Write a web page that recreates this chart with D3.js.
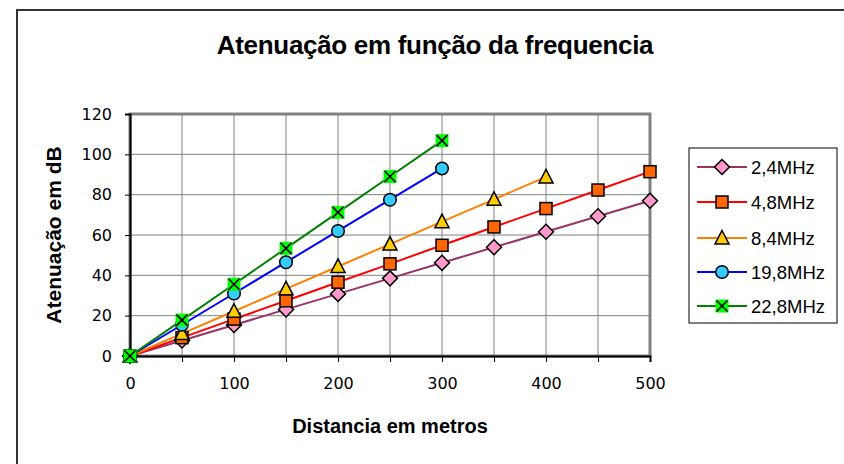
<!DOCTYPE html>
<html><head><meta charset="utf-8">
<script src="https://cdn.jsdelivr.net/npm/d3@7"></script>
<style>body{margin:0;background:#fff}svg{display:block}text{font-family:"Liberation Sans",Arial,sans-serif}</style>
</head><body>
<svg id="c" width="844" height="464"></svg>
<script>
const distances = [0,50,100,150,200,250,300,350,400,450,500];
const s24 = [0,7.7,15.4,23.1,30.8,38.5,46.2,53.9,61.6,69.3,77];
const s48 = [0,9.1,18.3,27.4,36.6,45.7,54.9,64,73.1,82.3,91.4];
const s84 = [0,11.1,22.2,33.3,44.4,55.5,66.6,77.7,88.8];
const s198 = [0,15.5,31,46.5,62,77.5,93];
const s228 = [0,17.8,35.6,53.4,71.2,89,106.8];
const seriesNames = ["2,4MHz","4,8MHz","8,4MHz","19,8MHz","22,8MHz"];
const xTicks = [0,100,200,300,400,500];
const yTicks = [0,20,40,60,80,100,120];
const title = "Atenuação em função da frequencia";
const xTitle = "Distancia em metros";
const yTitle = "Atenuação em dB";

const styles = [
  {line:"#993366", fill:"#FF99CC", shape:"diamond"},
  {line:"#FF0000", fill:"#FF6600", shape:"square"},
  {line:"#FF8000", fill:"#FFCC00", shape:"triangle"},
  {line:"#0000FF", fill:"#33CCFF", shape:"circle"},
  {line:"#008000", fill:"#00FF00", shape:"xsquare"}
];
const allSeries = [s24,s48,s84,s198,s228];

const svg = d3.select("#c");
svg.append("path").attr("d","M17,464 V10 H844").attr("fill","none").attr("stroke","#333").attr("stroke-width",2);

const x = d3.scaleLinear().domain([0,500]).range([130,650]);
const y = d3.scaleLinear().domain([0,120]).range([356,114]);

const g = svg.append("g");
d3.range(50,501,50).forEach(v=>{
  g.append("line").attr("x1",x(v)).attr("x2",x(v)).attr("y1",y(0)).attr("y2",y(120)).attr("stroke","#808080").attr("stroke-width",1);
});
yTicks.slice(1).forEach(v=>{
  g.append("line").attr("x1",x(0)).attr("x2",x(500)).attr("y1",y(v)).attr("y2",y(v)).attr("stroke","#808080").attr("stroke-width",1);
});
g.append("rect").attr("x",x(0)).attr("y",y(120)).attr("width",x(500)-x(0)).attr("height",y(0)-y(120)).attr("fill","none").attr("stroke","#808080").attr("stroke-width",3);

const tickFont = '"DejaVu Sans", sans-serif';
const xAxis = d3.axisBottom(x).tickValues(d3.range(0,501,50)).tickSize(6).tickFormat(d=>xTicks.includes(d)?d:"");
const gx = svg.append("g").attr("transform",`translate(0,${y(0)})`).call(xAxis);
gx.select(".domain").attr("stroke","#000").attr("stroke-width",2);
gx.selectAll(".tick line").attr("stroke","#000");
gx.selectAll("text").style("font-family",tickFont).attr("font-size",16).attr("fill","#000").attr("y",18).attr("dy","0.95em");

const yAxis = d3.axisLeft(y).tickValues(yTicks).tickSize(5);
const gy = svg.append("g").attr("transform",`translate(${x(0)},0)`).call(yAxis);
gy.select(".domain").attr("stroke","#000").attr("stroke-width",2);
gy.selectAll(".tick line").attr("stroke","#000");
gy.selectAll("text").style("font-family",tickFont).attr("font-size",16).attr("fill","#000").attr("x",-18);

function marker(sel, shape, fill){
  if(shape==="diamond"){
    sel.append("path").attr("d","M0,-7.5L7.5,0L0,7.5L-7.5,0Z").attr("fill",fill).attr("stroke","#000").attr("stroke-width",1.5);
  } else if(shape==="square"){
    sel.append("rect").attr("x",-6).attr("y",-6).attr("width",12).attr("height",12).attr("fill",fill).attr("stroke","#000").attr("stroke-width",1.5);
  } else if(shape==="triangle"){
    sel.append("path").attr("d","M0,-7.5L7,6L-7,6Z").attr("fill",fill).attr("stroke","#000").attr("stroke-width",1.5);
  } else if(shape==="circle"){
    sel.append("circle").attr("r",6.3).attr("fill",fill).attr("stroke","#000").attr("stroke-width",1.5);
  } else {
    sel.append("rect").attr("x",-6.5).attr("y",-6.5).attr("width",13).attr("height",13).attr("fill",fill);
    sel.append("path").attr("d","M-5.5,-5.5L5.5,5.5M5.5,-5.5L-5.5,5.5").attr("stroke","#000").attr("stroke-width",1.6);
  }
}

const line = d3.line().x((d,i)=>x(distances[i])).y(d=>y(d));
allSeries.forEach((data,k)=>{
  svg.append("path").datum(data).attr("d",line).attr("fill","none").attr("stroke",styles[k].line).attr("stroke-width",2);
});
allSeries.forEach((data,k)=>{
  const st=styles[k];
  data.forEach((v,i)=>{
    const m=svg.append("g").attr("transform",`translate(${x(distances[i])},${y(v)})`);
    marker(m,st.shape,st.fill);
  });
});

svg.append("text").attr("x",435).attr("y",54).attr("text-anchor","middle").attr("font-size",26).attr("font-weight","bold").attr("letter-spacing",-0.3).text(title);
svg.append("text").attr("x",390).attr("y",433).attr("text-anchor","middle").attr("font-size",20).attr("font-weight","bold").text(xTitle);
svg.append("text").attr("transform","translate(61,235) rotate(-90)").attr("text-anchor","middle").attr("font-size",21).attr("font-weight","bold").text(yTitle);

const lg = svg.append("g");
lg.append("rect").attr("x",689).attr("y",148).attr("width",148).attr("height",175).attr("fill","#fff").attr("stroke","#000").attr("stroke-width",1);
const ly=[167,202,238,272,306];
seriesNames.forEach((n,k)=>{
  const st=styles[k];
  lg.append("line").attr("x1",697).attr("x2",747).attr("y1",ly[k]).attr("y2",ly[k]).attr("stroke",st.line).attr("stroke-width",2);
  const m=lg.append("g").attr("transform",`translate(722,${ly[k]})`);
  marker(m,st.shape,st.fill);
  lg.append("text").attr("x",751).attr("y",ly[k]).attr("dy","0.36em").attr("font-size",18.5).text(n);
});
</script>
</body></html>
